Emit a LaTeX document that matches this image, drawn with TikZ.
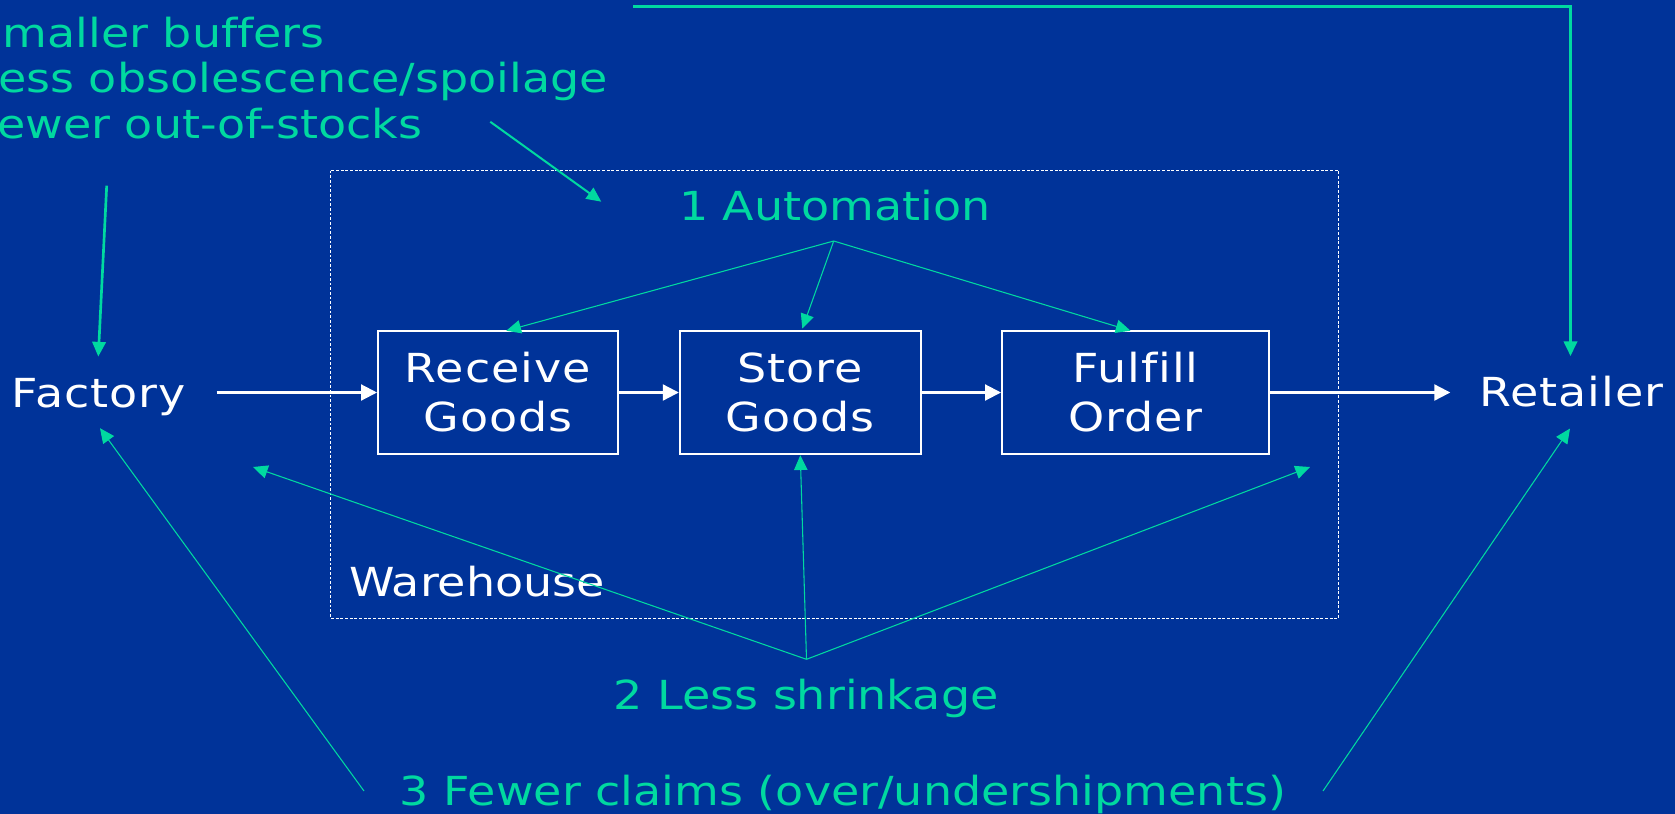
\documentclass[tikz,border=0pt]{standalone}
\usepackage{fontspec}
\setmainfont[FakeStretch=1.15,Ligatures=NoCommon]{DejaVu Sans}
\newfontfamily\widefont[FakeStretch=1.15,LetterSpace=2.5,Ligatures=NoCommon]{DejaVu Sans}
\usetikzlibrary{arrows.meta,calc}
\definecolor{bg}{HTML}{003399}
\definecolor{grn}{HTML}{00D9A0}
\begin{document}
\begin{tikzpicture}[x=0.75pt,y=-0.75pt,
  txt/.style={inner sep=0pt,font=\fontsize{30}{36}\selectfont},
  wtxt/.style={txt,text=white},
  wwide/.style={inner sep=0pt,text=white,font=\widefont\fontsize{30}{36}\selectfont},
  gtxt/.style={txt,text=grn},
  stepbox/.style={draw=white,line width=1.5pt,inner sep=0pt,align=center,text=white,
    font=\widefont\fontsize{30}{36.75}\selectfont,minimum height=92.7pt},
  whline/.style={draw=white,line width=0.75pt,dash pattern=on 2.2pt off 1.3pt},
  warr/.style={draw=white,line width=1.6pt,-{Triangle[length=12pt,width=12pt]}},
  garr/.style={draw=grn,line width=0.8pt,-{Triangle[length=11pt,width=10pt]}},
  gmid/.style={garr,line width=1.5pt},
  gthick/.style={garr,line width=2pt}]
\fill[bg] (0,0) rectangle (1675,814);
\useasboundingbox (0,0) rectangle (1675,814);

% warehouse frame
\draw[whline] (330.5,170.5) rectangle (1338.5,618);
\node[wtxt,anchor=base west] (wh) at (349,596) {Warehouse};

% process boxes
\node[stepbox,minimum width=180pt] (rg) at (498,392.5) {Receive\\Goods};
\node[stepbox,minimum width=180.75pt] (st) at (800.3,392.5) {Store\\Goods};
\node[stepbox,minimum width=200.25pt] (fo) at (1135.5,392.5) {Fulfill\\Order};

% end points
\node[wwide,anchor=base] (fac) at (99,407) {Factory};
\node[wwide,anchor=base] (ret) at (1571.5,406.7) {Retailer};

% green labels
\node[gtxt,anchor=base] (auto) at (835,220.3) {1 Automation};
\node[gtxt,anchor=base] (shr) at (806,709.3) {2 Less shrinkage};
\node[gtxt,anchor=base] (clm) at (843,805.7) {3 Fewer claims (over/undershipments)};
\node[gtxt,anchor=base west] (tl2) at (-27,47) {Smaller buffers};
\node[gtxt,anchor=base west] (tl3) at (-27,92) {Less obsolescence/spoilage};
\node[gtxt,anchor=base west] (tl4) at (-27,138) {Fewer out-of-stocks};

% white flow
\draw[warr] ($(rg.west)+(-160.3,0)$) -- (rg.west);
\draw[warr] (rg.east) -- (st.west);
\draw[warr] (st.east) -- (fo.west);
\draw[warr] (fo.east) -- ($(fo.east)+(180.3,0)$);

% automation
\coordinate (autoApex) at (833.7,241);
\draw[garr] (autoApex) -- ($(rg.north)+(8.3,1)$);
\draw[garr] (autoApex) -- ($(st.north)+(2,-1)$);
\draw[garr] (autoApex) -- ($(fo.north)+(-5,1)$);

% shrinkage
\coordinate (shrApex) at (806.5,659.3);
\coordinate (shrL) at (253,467);
\coordinate (shrR) at (1310,467);
\draw[garr] (shrApex) -- (st.south);
\draw[garr] (shrApex) -- (shrL);
\draw[garr] (shrApex) -- (shrR);

% claims
\coordinate (clmL) at (364,791);
\coordinate (clmR) at (1323,791);
\draw[garr] (clmL) -- ($(fac.south)+(1,12.6)$);
\draw[garr] (clmR) -- ($(ret.south)+(-1.5,21)$);

% inventory notes
\coordinate (tlTop) at (633,6.7);
\coordinate (tlOut) at (106.7,185.7);
\coordinate (tlAuto) at (490.3,121.8);
\coordinate (autoIn) at (601.3,201.7);
\draw[gthick] (tlTop) -| ($(ret.north)+(-1,-20)$);
\draw[gthick] (tlOut) -- ($(fac.north)+(-0.7,-21)$);
\draw[gmid] (tlAuto) -- (autoIn);
\end{tikzpicture}
\end{document}
